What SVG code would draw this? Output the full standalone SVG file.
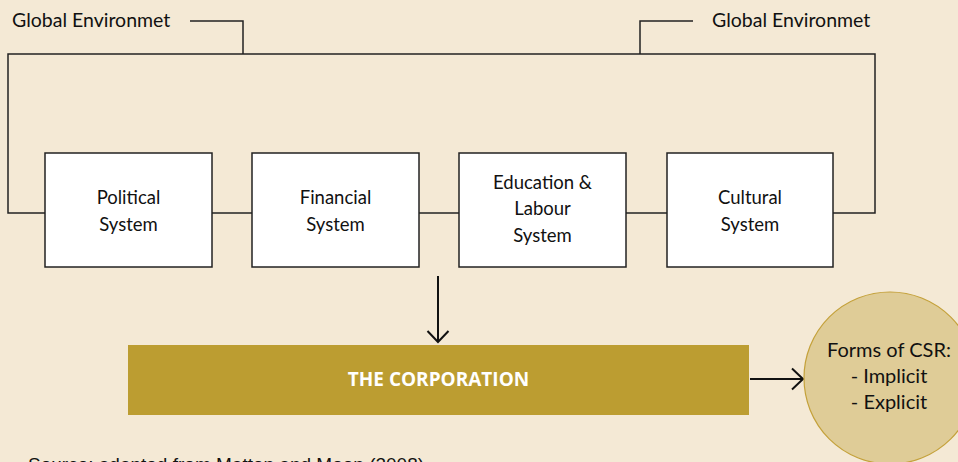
<svg xmlns="http://www.w3.org/2000/svg" width="958" height="462" viewBox="0 0 958 462">
<defs>
<style>
.bg{fill:#F4E9D5}
.ln{fill:none;stroke:#222;stroke-width:1.5}
.box{fill:#FFFFFF;stroke:#222;stroke-width:1.5}
.t{font-family:Lato,"Liberation Sans",sans-serif;font-size:18.5px;fill:#111;text-anchor:middle}
.c{font-family:Lato,"Liberation Sans",sans-serif;font-size:20px;fill:#111;text-anchor:middle}
.lbl{font-family:Lato,"Liberation Sans",sans-serif;font-size:19.5px;fill:#111}
.arr{fill:none;stroke:#111;stroke-width:2}
</style>
<marker id="ah" viewBox="0 0 14 24" refX="12.5" refY="12" markerWidth="14" markerHeight="24" markerUnits="userSpaceOnUse" orient="auto">
<path d="M1.5,1.5 L12.5,12 L1.5,22.5" fill="none" stroke="#111" stroke-width="2"/>
</marker>
</defs>
<rect class="bg" x="0" y="0" width="958" height="462"/>
<g id="labels">
<text class="lbl" x="12" y="27">Global Environmet</text>
<text class="lbl" x="712" y="27">Global Environmet</text>
</g>
<g id="connectors">
<polyline class="ln" points="190,21 243,21 243,54"/>
<polyline class="ln" points="693,21 640,21 640,54"/>
<polyline class="ln" points="45,213 8,213 8,54 875,54 875,213 833,213"/>
<line class="ln" x1="212" y1="213" x2="252" y2="213"/>
<line class="ln" x1="419" y1="213" x2="459" y2="213"/>
<line class="ln" x1="626" y1="213" x2="667" y2="213"/>
<line class="arr" x1="438" y1="276" x2="438" y2="342" marker-end="url(#ah)"/>
<line class="arr" x1="750" y1="379" x2="803" y2="379" marker-end="url(#ah)"/>
</g>
<g id="political">
<rect class="box" x="45" y="153" width="167" height="114"/>
<text class="t" x="128.5" y="204">Political</text>
<text class="t" x="128.5" y="231">System</text>
</g>
<g id="financial">
<rect class="box" x="252" y="153" width="167" height="114"/>
<text class="t" x="335.5" y="204">Financial</text>
<text class="t" x="335.5" y="231">System</text>
</g>
<g id="education">
<rect class="box" x="459" y="153" width="167" height="114"/>
<text class="t" x="542.5" y="189">Education &amp;</text>
<text class="t" x="542.5" y="215">Labour</text>
<text class="t" x="542.5" y="242">System</text>
</g>
<g id="cultural">
<rect class="box" x="667" y="153" width="166" height="114"/>
<text class="t" x="750" y="204">Cultural</text>
<text class="t" x="750" y="231">System</text>
</g>
<g id="corporation">
<rect x="128" y="345" width="621" height="70" fill="#BC9D31"/>
<text x="438.5" y="386" font-family="'Open Sans','Liberation Sans',sans-serif" font-size="19" font-weight="bold" fill="#FFFFFF" text-anchor="middle">THE CORPORATION</text>
</g>
<g id="csr">
<circle cx="890" cy="378" r="86" fill="#DFCC97" stroke="#C4A13A" stroke-width="1.2"/>
<text class="c" x="889" y="357">Forms of CSR:</text>
<text class="c" x="889" y="383">- Implicit</text>
<text class="c" x="889" y="409">- Explicit</text>
</g>
<g id="source">
<text x="28" y="471" font-family="'Liberation Sans',Arial,sans-serif" font-size="19" fill="#111">Source: adapted from Matten and Moon (2008)</text>
</g>
</svg>
